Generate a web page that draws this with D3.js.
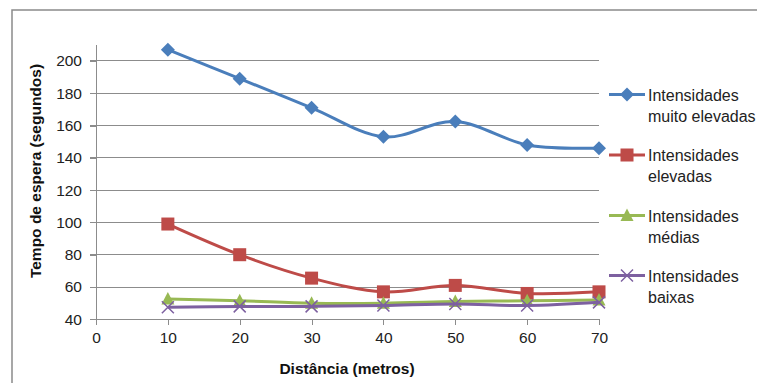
<!DOCTYPE html>
<html><head><meta charset="utf-8">
<script src="https://cdn.jsdelivr.net/npm/d3@7"></script>
<style>body{margin:0;background:#fff}svg{display:block}</style>
</head><body><svg id="c" width="757" height="383"></svg>
<script>
const distances = [10, 20, 30, 40, 50, 60, 70];
const muitoElevadas = [207, 189, 171, 153, 162.5, 148, 146];
const elevadas = [99, 80, 65.5, 57, 61, 56, 57];
const medias = [52.5, 51.5, 50, 50, 51, 51.5, 52];
const baixas = [47.5, 48, 48, 48.5, 49.5, 48.5, 50.5];
const xTicks = [0, 10, 20, 30, 40, 50, 60, 70];
const yTicks = [40, 60, 80, 100, 120, 140, 160, 180, 200];
const seriesNames = [["Intensidades", "muito elevadas"], ["Intensidades", "elevadas"], ["Intensidades", "médias"], ["Intensidades", "baixas"]];
const seriesValues = [muitoElevadas, elevadas, medias, baixas];
const colors = ["#4a7ebb", "#be4b48", "#98b954", "#7d60a0"];
const markers = ["diamond", "square", "triangle", "x"];

const svg = d3.select("#c");
const font = "'Liberation Sans', Arial, sans-serif";
svg.append("rect").attr("x", 12).attr("y", 10).attr("width", 800).attr("height", 400)
  .attr("fill", "none").attr("stroke", "#8a8a8a").attr("stroke-width", 1.5);

const x = d3.scaleLinear().domain([0, 70]).range([96, 599]);
const y = d3.scaleLinear().domain([40, 210]).range([319.3, 44.8]);

// gridlines
svg.append("g").selectAll("line").data(yTicks.filter(d => d > 40)).join("line")
  .attr("x1", 90).attr("x2", 599).attr("y1", d => y(d)).attr("y2", d => y(d))
  .attr("stroke", "#8c8c8c").attr("stroke-width", 1).attr("shape-rendering", "crispEdges");

// y axis
const yAxis = svg.append("g").attr("transform", "translate(96,0)")
  .call(d3.axisLeft(y).tickValues(yTicks).tickSize(6).tickPadding(8));
yAxis.select(".domain").attr("stroke", "#8c8c8c").attr("d", `M0,${y(210)}V${y(40)}`);
yAxis.selectAll(".tick line").attr("stroke", "#8c8c8c");
yAxis.selectAll("text").attr("font-family", font).attr("font-size", 15.5).attr("fill", "#222");

// x axis
const xAxis = svg.append("g").attr("transform", `translate(0,${y(40)})`)
  .call(d3.axisBottom(x).tickValues(xTicks).tickSize(6).tickPadding(7));
xAxis.select(".domain").attr("stroke", "#8c8c8c").attr("d", `M${x(0)},0H${x(70)}`);
xAxis.selectAll(".tick line").attr("stroke", "#8c8c8c");
xAxis.selectAll("text").attr("font-family", font).attr("font-size", 15.5).attr("fill", "#222");
svg.selectAll("path.domain,.tick line").attr("shape-rendering", "crispEdges");

// titles
svg.append("text").attr("x", 347).attr("y", 374).attr("text-anchor", "middle")
  .attr("font-family", font).attr("font-size", 15.5).attr("font-weight", "bold").attr("fill", "#111")
  .text("Distância (metros)");
svg.append("text").attr("transform", "translate(41,171) rotate(-90)").attr("text-anchor", "middle")
  .attr("font-family", font).attr("font-size", 15.5).attr("font-weight", "bold").attr("fill", "#111")
  .text("Tempo de espera (segundos)");

function drawMarker(g, type, color, cx, cy) {
  if (type === "diamond") {
    g.append("path").attr("d", `M${cx},${cy - 7}L${cx + 7},${cy}L${cx},${cy + 7}L${cx - 7},${cy}Z`).attr("fill", color);
  } else if (type === "square") {
    g.append("rect").attr("x", cx - 6.5).attr("y", cy - 6.5).attr("width", 13).attr("height", 13).attr("fill", color);
  } else if (type === "triangle") {
    g.append("path").attr("d", `M${cx},${cy - 7}L${cx + 6.5},${cy + 5.5}L${cx - 6.5},${cy + 5.5}Z`).attr("fill", color);
  } else {
    g.append("path").attr("d", `M${cx - 6},${cy - 6}L${cx + 6},${cy + 6}M${cx - 6},${cy + 6}L${cx + 6},${cy - 6}`)
      .attr("stroke", color).attr("stroke-width", 1.5).attr("fill", "none");
  }
}

const line = d3.line().x((d, i) => x(distances[i])).y(d => y(d)).curve(d3.curveCardinal.tension(0));
seriesValues.forEach((vals, si) => {
  const g = svg.append("g");
  g.append("path").attr("d", line(vals)).attr("fill", "none").attr("stroke", colors[si])
    .attr("stroke-width", 3).attr("stroke-linejoin", "round");
  vals.forEach((v, i) => drawMarker(g, markers[si], colors[si], x(distances[i]), y(v)));
});

// legend
const legY = [94.5, 155, 215.5, 275.5];
seriesNames.forEach((nm, si) => {
  const g = svg.append("g");
  g.append("line").attr("x1", 609).attr("x2", 645).attr("y1", legY[si]).attr("y2", legY[si])
    .attr("stroke", colors[si]).attr("stroke-width", 3);
  drawMarker(g, markers[si], colors[si], 627, legY[si]);
  nm.forEach((t, li) => {
    g.append("text").attr("x", 648).attr("y", legY[si] + 6 + li * 21)
      .attr("font-family", font).attr("font-size", 16).attr("fill", "#222").text(t);
  });
});
</script></body></html>
